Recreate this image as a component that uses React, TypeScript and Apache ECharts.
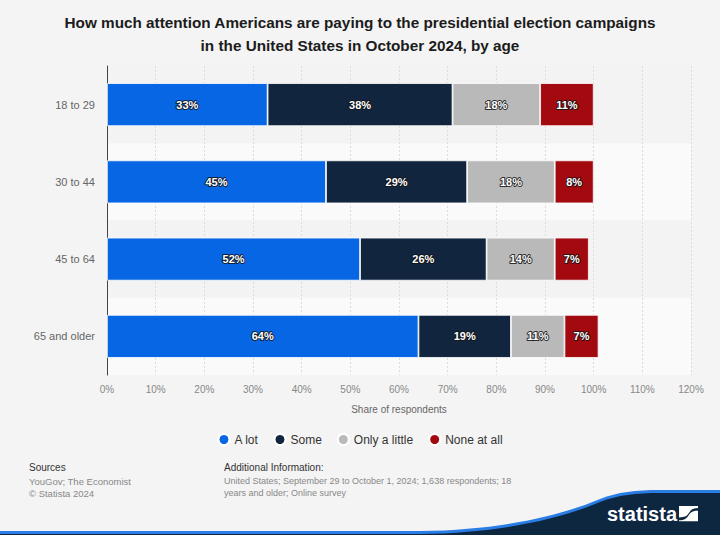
import React, { useEffect, useRef } from "react";
import * as echarts from "echarts";

const categories = ["18 to 29", "30 to 44", "45 to 64", "65 and older"];
const aLot = [33, 45, 52, 64];
const some = [38, 29, 26, 19];
const onlyALittle = [18, 18, 14, 11];
const noneAtAll = [11, 8, 7, 7];
const seriesNames = ["A lot", "Some", "Only a little", "None at all"];
const seriesColors = ["#0766e3", "#11253f", "#b9b9b9", "#a20a10"];
const xMax = 120;
const xInterval = 10;

const FONT = "'Liberation Sans', Arial, Helvetica, sans-serif";

echarts.graphic.registerShape(
  "waveBlue",
  echarts.graphic.extendPath(
    "M0 531 L420 531 C500 530 560 516 600 499 C618 492 635 490 660 490 L720 490 L720 535 L0 535 Z",
    {}
  )
);
echarts.graphic.registerShape(
  "waveNavy",
  echarts.graphic.extendPath(
    "M0 534 L420 534 C500 533 560 519 600 502 C618 495 635 493 660 493 L720 493 L720 535 L0 535 Z",
    {}
  )
);
echarts.graphic.registerShape(
  "logoMark",
  echarts.graphic.extendPath(
    "M0 0 L20 0 L20 2 C14 2 12 5 10 8 C8 11 6 12 0 12 Z M20 5 L20 16 L0 16 L0 15 C6 15 8 13 10 10 C12 7 14 5 20 5 Z",
    {}
  )
);

export default function App() {
  const ref = useRef<HTMLDivElement>(null);
  useEffect(() => {
    if (!ref.current) return;
    const chart = echarts.init(ref.current, null, { renderer: "svg" });
    const data = [aLot, some, onlyALittle, noneAtAll];
    const labelStyle = {
      show: true,
      position: "inside",
      formatter: "{c}%",
      color: "#ffffff",
      fontFamily: FONT,
      fontSize: 11,
      fontWeight: "bold",
      textBorderColor: "rgba(20,20,20,0.85)",
      textBorderWidth: 2,
    };
    chart.setOption({
      animation: false,
      backgroundColor: "#f4f4f4",
      textStyle: { fontFamily: FONT },
      title: {
        text:
          "How much attention Americans are paying to the presidential election campaigns\nin the United States in October 2024, by age",
        left: "center",
        top: 6,
        textStyle: {
          fontFamily: FONT,
          fontSize: 15.3,
          fontWeight: "bold",
          color: "#1c1c1c",
          lineHeight: 23,
        },
      },
      legend: {
        data: seriesNames,
        top: 428,
        left: "center",
        icon: "circle",
        itemWidth: 11,
        itemHeight: 11,
        itemGap: 15,
        textStyle: { fontSize: 12, color: "#333", fontFamily: FONT },
      },
      grid: { left: 107, right: 29, top: 66, bottom: 160, containLabel: false },
      xAxis: {
        type: "value",
        min: 0,
        max: xMax,
        interval: xInterval,
        name: "Share of respondents",
        nameLocation: "middle",
        nameGap: 29,
        nameTextStyle: { fontSize: 10, color: "#666", fontFamily: FONT },
        axisLine: { show: false },
        axisTick: { show: false },
        axisLabel: {
          formatter: "{value}%",
          fontSize: 10,
          color: "#888",
          margin: 9,
          fontFamily: FONT,
        },
        splitLine: {
          show: true,
          lineStyle: { color: "#dcdcdc", type: [2, 2], width: 1 },
        },
      },
      yAxis: {
        type: "category",
        data: categories,
        inverse: true,
        axisLine: { show: true, lineStyle: { color: "#444", width: 1 } },
        axisTick: { show: false },
        axisLabel: { fontSize: 11, color: "#666", margin: 12, fontFamily: FONT },
        splitArea: { show: true, areaStyle: { color: ["#f3f3f3", "#fafafa"] } },
        splitLine: { show: false },
      },
      series: seriesNames.map((name, i) => ({
        name,
        type: "bar",
        stack: "total",
        barWidth: 43,
        data: data[i],
        itemStyle: { color: seriesColors[i], borderColor: "#ffffff", borderWidth: 0.8 },
        label: labelStyle,
      })),
      graphic: [
        {
          type: "text",
          left: 29,
          top: 462,
          style: { text: "Sources", fontSize: 10, fill: "#333", fontFamily: FONT },
        },
        {
          type: "text",
          left: 29,
          top: 475,
          style: {
            text: "YouGov; The Economist\n© Statista 2024",
            fontSize: 9.5,
            lineHeight: 12,
            fill: "#888",
            fontFamily: FONT,
          },
        },
        {
          type: "text",
          left: 224,
          top: 462,
          style: { text: "Additional Information:", fontSize: 10, fill: "#333", fontFamily: FONT },
        },
        {
          type: "text",
          left: 224,
          top: 475,
          style: {
            text:
              "United States; September 29 to October 1, 2024; 1,638 respondents; 18\nyears and older; Online survey",
            fontSize: 9,
            lineHeight: 12,
            fill: "#888",
            fontFamily: FONT,
          },
        },
        { type: "waveBlue", x: 0, y: 0, style: { fill: "#2b7de6" }, silent: true },
        { type: "waveNavy", x: 0, y: 0, style: { fill: "#0e2741" }, silent: true },
        {
          type: "text",
          x: 607,
          y: 514,
          style: {
            text: "statista",
            fontSize: 20,
            fontWeight: "bold",
            fill: "#ffffff",
            fontFamily: FONT,
            verticalAlign: "middle",
          },
        },
        {
          type: "logoMark",
          x: 679,
          y: 506,
          scaleX: 0.95,
          scaleY: 0.95,
          style: { fill: "#ffffff" },
          silent: true,
        },
      ],
    });
    return () => chart.dispose();
  }, []);
  return (
    <div
      ref={ref}
      style={{ position: "fixed", left: 0, top: 0, width: 720, height: 535 }}
    />
  );
}
